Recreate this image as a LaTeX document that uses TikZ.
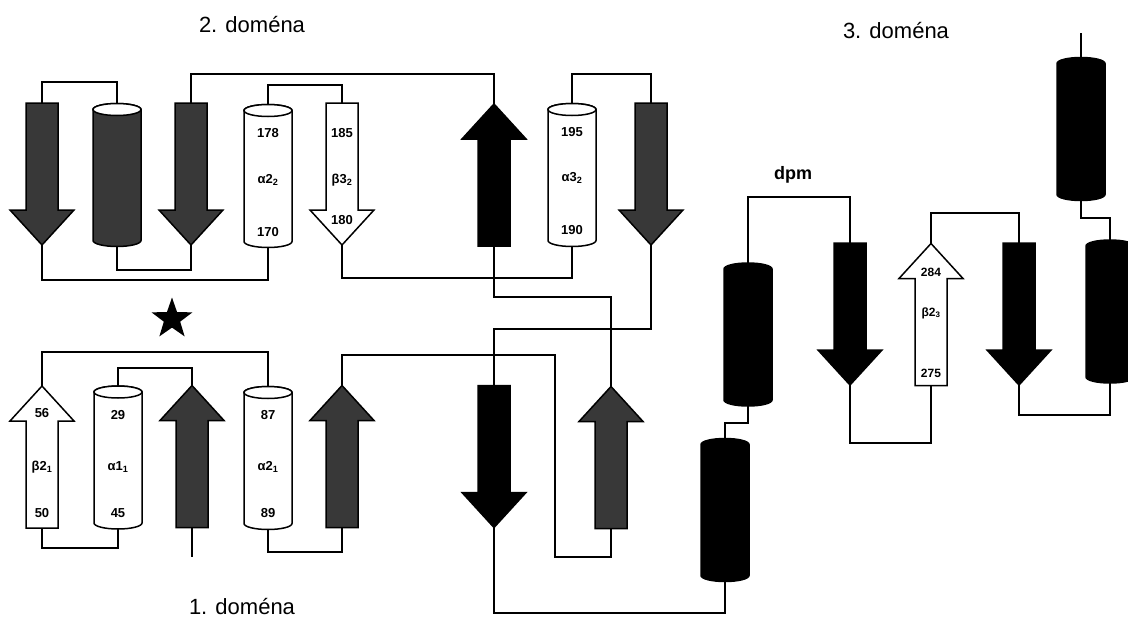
\documentclass[tikz,border=0pt]{standalone}
\usepackage{fontspec}
\setmainfont{Liberation Sans}
\usetikzlibrary{shapes.geometric}
\definecolor{tex}{gray}{0.22}
\tikzset{
  hx/.style={rectangle, minimum width=48pt, minimum height=143pt, inner sep=0pt, outer sep=0pt},
  sx/.style={rectangle, minimum width=64pt, minimum height=142pt, inner sep=0pt, outer sep=0pt},
  conn/.style={line width=1.1pt},
  shapeline/.style={line width=1.5pt, draw=black},
  num/.style={font=\bfseries\fontsize{13}{13}\selectfont, inner sep=0pt},
  smallnum/.style={font=\bfseries\fontsize{12}{12}\selectfont, inner sep=0pt},
  title/.style={font=\fontsize{22}{24}\selectfont, inner sep=0pt},
}
\newcommand\HelixBody[2]{%
  \filldraw[shapeline, fill=#2] ([yshift=-6pt]#1.north west) -- ([yshift=6pt]#1.south west)
    arc[start angle=180, end angle=360, x radius=24pt, y radius=6pt]
    -- ([yshift=-6pt]#1.north east)
    arc[start angle=0, end angle=180, x radius=24pt, y radius=6pt] -- cycle;}
\newcommand\HelixTop[1]{%
  \filldraw[shapeline, fill=white] ([yshift=-6pt]#1.north) ellipse [x radius=24pt, y radius=6pt];}
\newcommand\StrandDown[2]{%
  \filldraw[shapeline, fill=#2] ([xshift=-16pt]#1.north) -- ([xshift=16pt]#1.north)
    -- ([xshift=16pt,yshift=35pt]#1.south) -- ([yshift=35pt]#1.south east) -- (#1.south)
    -- ([yshift=35pt]#1.south west) -- ([xshift=-16pt,yshift=35pt]#1.south) -- cycle;}
\newcommand\StrandUp[2]{%
  \filldraw[shapeline, fill=#2] ([xshift=-16pt]#1.south) -- ([xshift=16pt]#1.south)
    -- ([xshift=16pt,yshift=-35pt]#1.north) -- ([yshift=-35pt]#1.north east) -- (#1.north)
    -- ([yshift=-35pt]#1.north west) -- ([xshift=-16pt,yshift=-35pt]#1.north) -- cycle;}
\begin{document}
\begin{tikzpicture}[x=1pt,y=-1pt]
\useasboundingbox (0,0) rectangle (1128,621);
\clip (0,0) rectangle (1128,621);
% ---------- nodes: domain 2
\node[sx] (s1) at (42,174) {};
\node[hx] (c1) at (117,175) {};
\node[sx] (s2) at (191,174) {};
\node[hx] (a22) at (268,176) {};
\node[sx] (b32) at (342,174) {};
\node[sx] (B) at (494,175) {};
\node[hx] (a32) at (572,175) {};
\node[sx] (s3) at (651,174) {};
% ---------- nodes: domain 1
\node[sx] (b21) at (42,457) {};
\node[hx] (a11) at (118,457.5) {};
\node[sx] (g1) at (192,456.5) {};
\node[hx] (a21) at (268,458) {};
\node[sx] (g2) at (342,456.5) {};
\node[sx] (bd) at (494,456.5) {};
\node[sx] (g3) at (611,457.5) {};
% ---------- nodes: domain 3
\node[hx] (L) at (725,510) {};
\node[hx] (U) at (748,334.5) {};
\node[sx] (D3L) at (850,314) {};
\node[sx] (b23) at (931,314.5) {};
\node[sx] (D3R) at (1019,314) {};
\node[hx] (R) at (1110,311.5) {};
\node[hx] (TR) at (1081,129) {};
\coordinate (e1) at (192,557);
\coordinate (e2) at (1081,33);
% ---------- connectors
\draw[conn] (s1.north) -- (s1.north |- 0,82) -| (c1.north);
\draw[conn] (c1.south) -- (c1.south |- 0,270) -| (s2.south);
\draw[conn] (s2.north) -- (s2.north |- 0,74) -| (B.north);
\draw[conn] (s1.south) -- (s1.south |- 0,280) -| (a22.south);
\draw[conn] (a22.north) -- (a22.north |- 0,85) -| (b32.north);
\draw[conn] (b32.south) -- (b32.south |- 0,278) -| (a32.south);
\draw[conn] (B.south) -- (B.south |- 0,297) -| (g3.north);
\draw[conn] (a32.north) -- (a32.north |- 0,74) -| (s3.north);
\draw[conn] (s3.south) -- (s3.south |- 0,329) -| (bd.north);
\draw[conn] (b21.north) -- (b21.north |- 0,352) -| (a21.north);
\draw[conn] (a11.north) -- (a11.north |- 0,368) -| (g1.north);
\draw[conn] (g1.south) -- (e1);
\draw[conn] (b21.south) -- (b21.south |- 0,548) -| (a11.south);
\draw[conn] (a21.south) -- (a21.south |- 0,552) -| (g2.south);
\draw[conn] (g2.north) -- (g2.north |- 0,355) -- (555,355) -- (555,557) -| (g3.south);
\draw[conn] (bd.south) -- (bd.south |- 0,613) -| (L.south);
\draw[conn] (L.north) -- (L.north |- 0,423) -| (U.south);
\draw[conn] (U.north) -- (U.north |- 0,197) -| (D3L.north);
\draw[conn] (D3L.south) -- (D3L.south |- 0,443) -| (b23.south);
\draw[conn] (b23.north) -- (b23.north |- 0,213) -| (D3R.north);
\draw[conn] (D3R.south) -- (D3R.south |- 0,415) -| (R.south);
\draw[conn] (R.north) -- (R.north |- 0,218) -| (TR.south);
\draw[conn] (TR.north) -- (e2);
% ---------- shapes: domain 2
\StrandDown{s1}{tex}
\HelixBody{c1}{tex}\HelixTop{c1}
\StrandDown{s2}{tex}
\HelixBody{a22}{white}\HelixTop{a22}
\StrandDown{b32}{white}
\StrandUp{B}{black}
\HelixBody{a32}{white}\HelixTop{a32}
\StrandDown{s3}{tex}
% ---------- shapes: domain 1
\StrandUp{b21}{white}
\HelixBody{a11}{white}\HelixTop{a11}
\StrandUp{g1}{tex}
\HelixBody{a21}{white}\HelixTop{a21}
\StrandUp{g2}{tex}
\StrandDown{bd}{black}
\StrandUp{g3}{tex}
% ---------- shapes: domain 3
\HelixBody{L}{black}
\HelixBody{U}{black}
\StrandDown{D3L}{black}
\StrandUp{b23}{white}
\StrandDown{D3R}{black}
\HelixBody{R}{black}
\HelixBody{TR}{black}
% ---------- star
\node[star, star points=5, star point ratio=2.5, fill=black, minimum size=43pt, inner sep=0pt] (star) at (172,319) {};
% ---------- labels
\node[num] (n178) at (268,133) {178};
\node[num] (na22) at (268,180) {α2\textsubscript{2}};
\node[num] (n170) at (268,232) {170};
\node[num] (n185) at (342,133) {185};
\node[num] (nb32) at (342,180) {β3\textsubscript{2}};
\node[num] (n180) at (342,220) {180};
\node[num] (n195) at (572,132) {195};
\node[num] (na32) at (572,178) {α3\textsubscript{2}};
\node[num] (n190) at (572,230) {190};
\node[num] (n56) at (42,413) {56};
\node[num] (nb21) at (42,467) {β2\textsubscript{1}};
\node[num] (n50) at (42,513) {50};
\node[num] (n29) at (118,415) {29};
\node[num] (na11) at (118,467) {α1\textsubscript{1}};
\node[num] (n45) at (118,513) {45};
\node[num] (n87) at (268,415) {87};
\node[num] (na21) at (268,467) {α2\textsubscript{1}};
\node[num] (n89) at (268,513) {89};
\node[smallnum] (n284) at (931,272) {284};
\node[smallnum] (nb23) at (931,313) {β2\textsubscript{3}};
\node[smallnum] (n275) at (931,373) {275};
\node[title] (d2) at (252,25) {2. doména};
\node[title] (d3) at (896,31) {3. doména};
\node[title] (d1) at (242,607) {1. doména};
\node[font=\bfseries\fontsize{18}{20}\selectfont, inner sep=0pt] (dpm) at (793,175) {dpm};
\end{tikzpicture}
\end{document}
